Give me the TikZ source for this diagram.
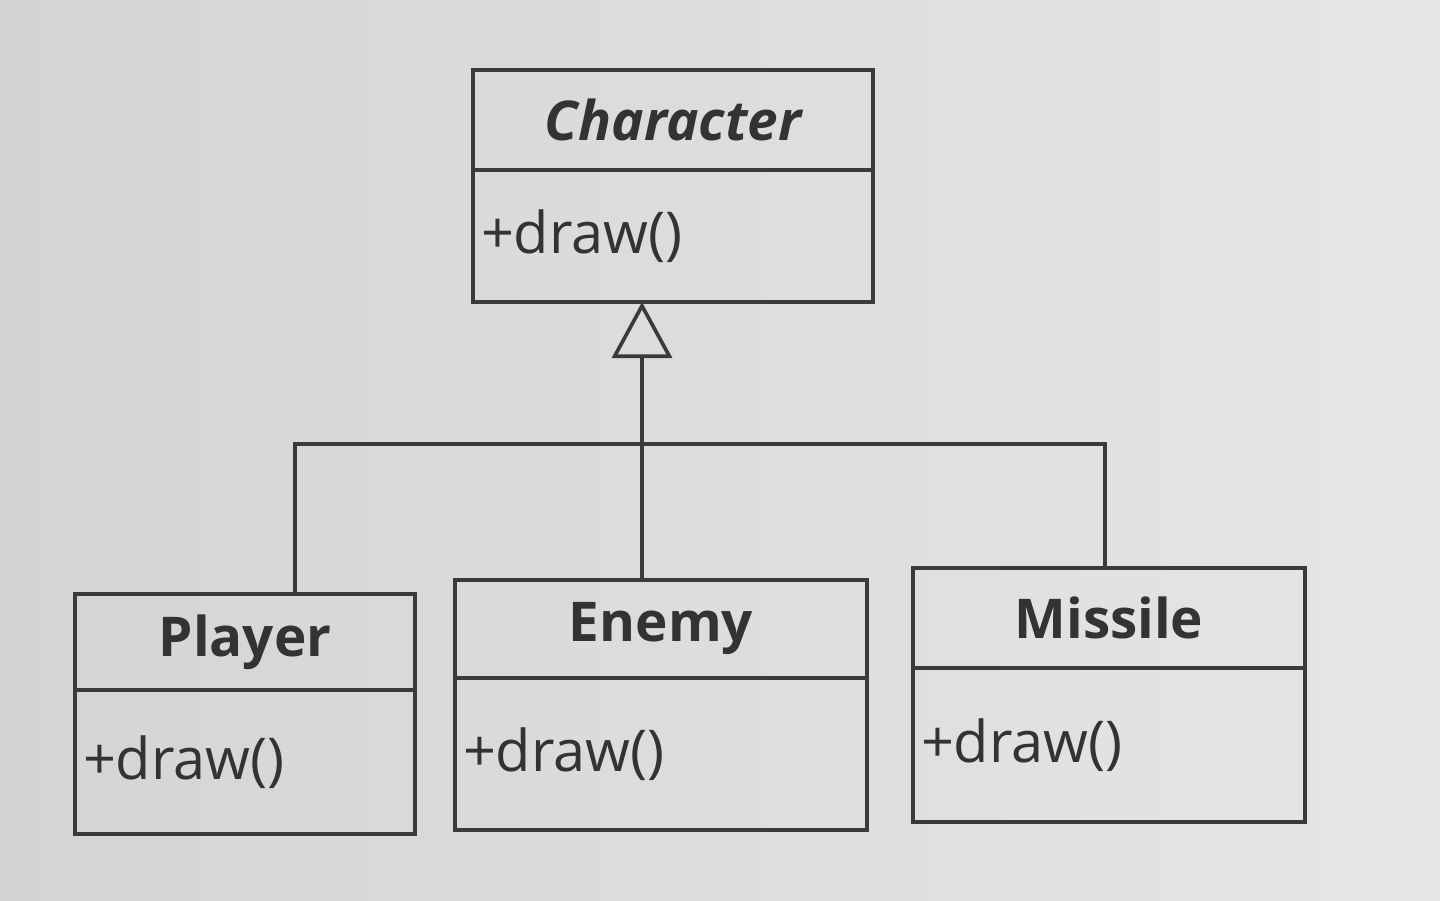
\documentclass[tikz,border=0pt]{standalone}
\usepackage{fontspec}
\setmainfont{Open Sans}
\usetikzlibrary{positioning,arrows.meta}
\definecolor{linec}{HTML}{3A3A3A}
\definecolor{txtc}{HTML}{333333}
\definecolor{bgleft}{HTML}{D4D4D2}
\definecolor{bgright}{HTML}{E6E6E4}
\tikzset{
	cls/.style={draw=linec,line width=2.6pt,inner sep=0pt,outer sep=0pt,text=txtc},
	clstitle/.style={cls,font=\fontsize{39}{45}\selectfont\bfseries},
	clsbody/.style={cls,font=\fontsize{41}{47}\selectfont,align=left,inner xsep=0.2cm},
	inherit/.style={draw=linec,line width=2.6pt},
}
\begin{document}
\begin{tikzpicture}
	\shade[left color=bgleft,right color=bgright] (0,0) rectangle (36,-22.525);
	\useasboundingbox (0,0) rectangle (36,-22.525);
	% base class
	\node [clstitle,font=\fontsize{39}{45}\selectfont\bfseries\itshape,minimum width=10cm,minimum height=2.5cm] at (16.825,-3.0) (chart) {Character};
	\node [clsbody,text width=9.6cm,minimum height=3.3cm,below=0pt of chart] (charm) {+draw()};
	% derived classes
	\node [clstitle,minimum width=8.5cm,minimum height=2.4cm] at (6.125,-16.05) (playt) {Player};
	\node [clsbody,text width=8.1cm,minimum height=3.6cm,below=0pt of playt] (playm) {+draw()};
	\node [clstitle,minimum width=10.3cm,minimum height=2.45cm] at (16.525,-15.725) (enemt) {Enemy};
	\node [clsbody,text width=9.9cm,minimum height=3.8cm,below=0pt of enemt] (enemm) {+draw()};
	\node [clstitle,minimum width=9.8cm,minimum height=2.5cm] at (27.725,-15.45) (misst) {Missile};
	\node [clsbody,text width=9.4cm,minimum height=3.85cm,below=0pt of misst] (missm) {+draw()};
	% generalisation
	\coordinate (hub) at (16.05,-11.1);
	\draw [inherit] ([xshift=1.25cm]playt.north) |- (hub) -| ([xshift=-0.1cm]misst.north);
	\draw [inherit] (hub |- enemt.north) -- (hub);
	\draw [inherit,-{Triangle[open,length=1.4cm,width=1.5cm,line width=2.6pt]}] (hub) -- (hub |- charm.south);
\end{tikzpicture}
\end{document}
